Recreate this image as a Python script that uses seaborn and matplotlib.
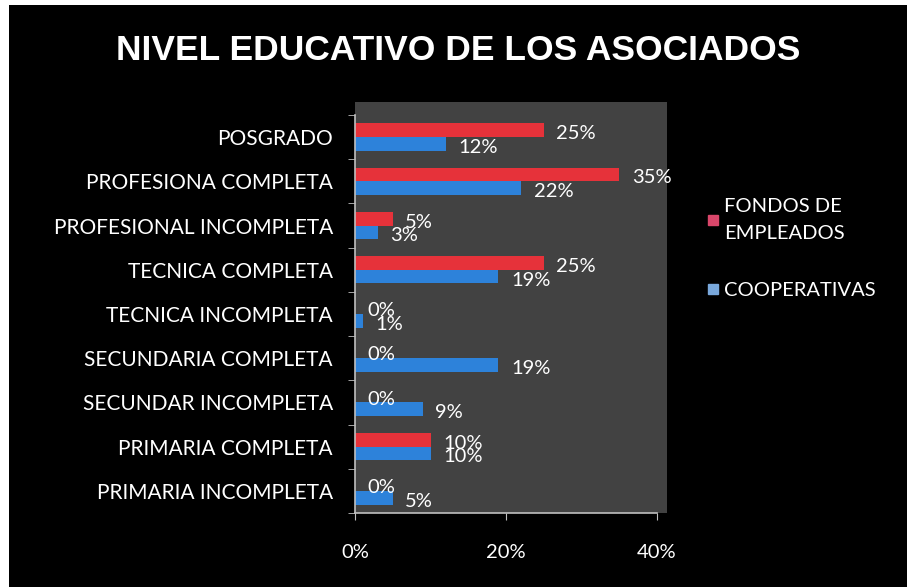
import matplotlib
matplotlib.use("Agg")
import matplotlib.pyplot as plt
import pandas as pd
import seaborn as sns
from matplotlib.lines import Line2D
from matplotlib.patches import Rectangle

# Data
niveles = [
    "POSGRADO",
    "PROFESIONA COMPLETA",
    "PROFESIONAL INCOMPLETA",
    "TECNICA COMPLETA",
    "TECNICA INCOMPLETA",
    "SECUNDARIA COMPLETA",
    "SECUNDAR INCOMPLETA",
    "PRIMARIA COMPLETA",
    "PRIMARIA INCOMPLETA",
]
fondos = [25, 35, 5, 25, 0, 0, 0, 10, 0]
cooperativas = [12, 22, 3, 19, 1, 19, 9, 10, 5]
series = ["FONDOS DE\nEMPLEADOS", "COOPERATIVAS"]
x_ticks = [0, 20, 40]

df = pd.DataFrame({
    "nivel": niveles * 2,
    "valor": fondos + cooperativas,
    "serie": [series[0]] * len(niveles) + [series[1]] * len(niveles),
})

sns.set_style("dark")
plt.rcParams["font.family"] = ["Lato", "DejaVu Sans"]

W, H = 907, 587
fig = plt.figure(figsize=(W / 100, H / 100), dpi=100, facecolor="white")

# black slide background and 3D back wall
fig.patches.append(Rectangle((9 / W, 0), 1 - 9 / W, 1 - 5 / H, transform=fig.transFigure,
                             facecolor="black", edgecolor="none", zorder=-2))
fig.patches.append(Rectangle((355 / W, 1 - 513 / H), (667 - 355) / W, (513 - 102) / H,
                             transform=fig.transFigure, facecolor="#424242",
                             edgecolor="none", zorder=-1))

ax = fig.add_axes([355 / W, 1 - 513 / H, (657 - 355) / W, (513 - 115) / H])
ax.set_facecolor("#424242")

colors = ["#e6323a", "#2d82da"]
sns.barplot(data=df, x="valor", y="nivel", hue="serie", orient="h",
            palette=colors, saturation=1, width=0.62, linewidth=0,
            ax=ax, legend=False)

ax.set_xlim(0, 40)
ax.set_ylim(len(niveles) - 0.5, -0.5)

# data labels
for cont in ax.containers:
    for bar in cont:
        w = bar.get_width()
        yc = bar.get_y() + bar.get_height() / 2
        ax.annotate(f"{w:.0f}%", (w, yc), xytext=(9, -2.5), textcoords="offset points",
                    ha="left", va="center", color="white", fontsize=14.5)

ax.set_xticks(x_ticks)
ax.set_xticklabels([f"{t}%" for t in x_ticks], color="white", fontsize=14.5)
ax.set_yticks(range(len(niveles)))
ax.set_yticklabels(niveles, color="white", fontsize=15)
ax.set_yticks([i - 0.5 for i in range(len(niveles) + 1)], minor=True)
ax.tick_params(axis="y", which="major", length=0, pad=16)
ax.tick_params(axis="y", which="minor", length=5, color="#bfbfbf", left=True)
ax.tick_params(axis="x", length=5, color="#bfbfbf", bottom=True, pad=17)
ax.set_xlabel("")
ax.set_ylabel("")
ax.grid(False)
for s in ["top", "right"]:
    ax.spines[s].set_visible(False)
for s in ["left", "bottom"]:
    ax.spines[s].set_visible(True)
    ax.spines[s].set_color("#bfbfbf")
    ax.spines[s].set_linewidth(1.2)

# legend
handles = [Line2D([], [], marker="s", linestyle="none", markersize=7, color=c)
           for c in ["#d9466a", "#79a8dc"]]
leg = fig.legend(handles, series, loc="upper left", bbox_to_anchor=(686 / W, 1 - 180 / H),
                 frameon=False, labelcolor="white", fontsize=14.5, handletextpad=0.1,
                 labelspacing=2.0, handlelength=0.9)
for t in leg.get_texts():
    t.set_linespacing(1.7)

fig.text(458 / W, 1 - 50 / H, "NIVEL EDUCATIVO DE LOS ASOCIADOS", ha="center", va="center",
         color="white", fontsize=25.5, fontweight="bold", family="Liberation Sans")

fig.savefig("out.png", dpi=100, facecolor=fig.get_facecolor())
